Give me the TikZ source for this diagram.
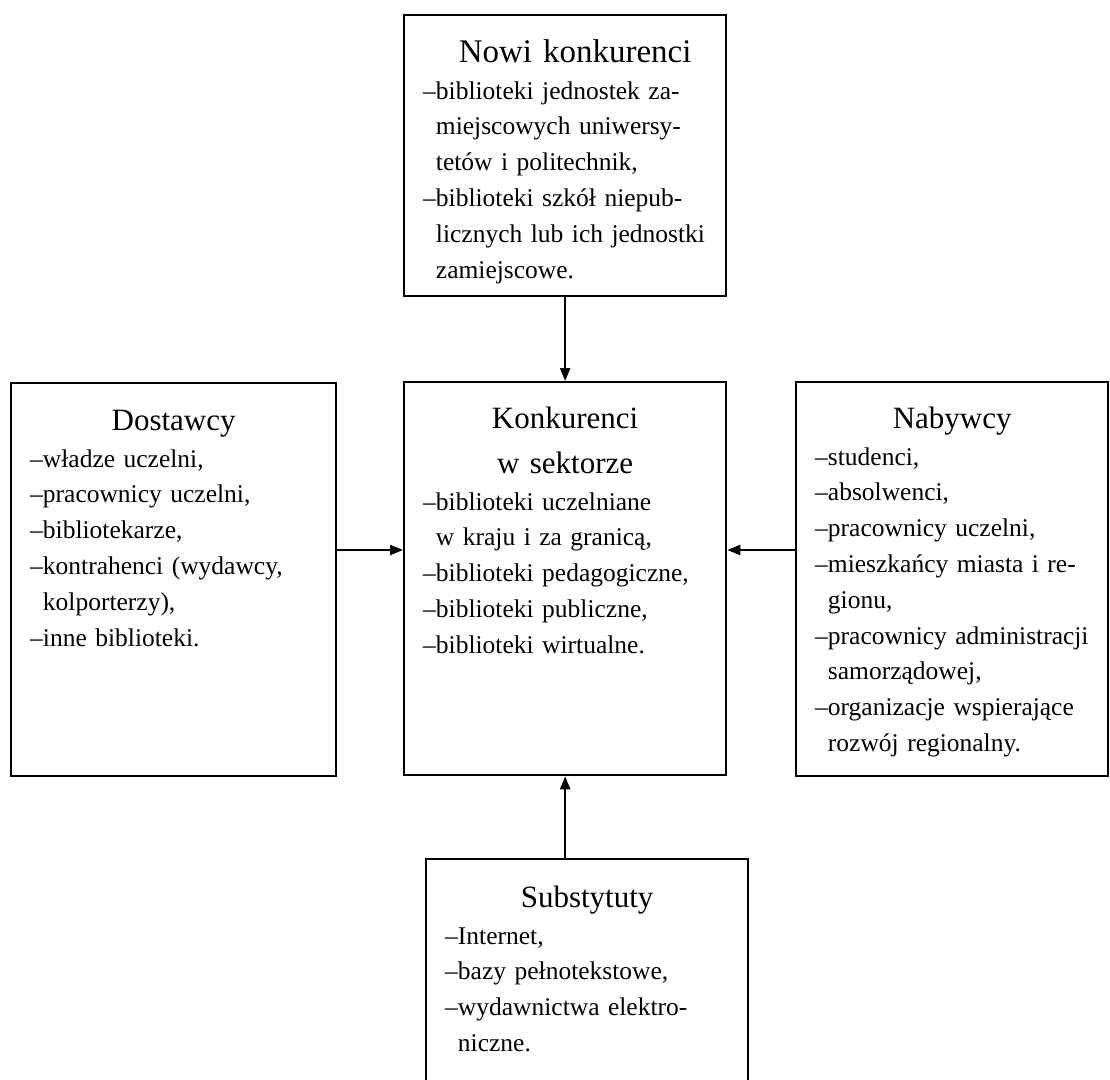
\documentclass[tikz,border=0pt]{standalone}
\usepackage{fontspec}
\setmainfont{Liberation Serif}
\usetikzlibrary{arrows.meta}
\newcommand\dsh{–}
\newcommand\ind{\phantom{–}}
\begin{document}
\begin{tikzpicture}[x=1pt,y=-1pt,
  bx/.style={draw=black,line width=2.3pt,inner sep=0pt,anchor=north west},
  ttl/.style={anchor=base,inner sep=0pt,align=center,text width=300pt,font=\fontsize{31}{45}\selectfont},
  body/.style={anchor=base west,inner sep=0pt,align=left,text width=420pt,font=\fontsize{25.5}{35.8}\selectfont},
  arr/.style={line width=2.3pt,-{Triangle[length=13pt,width=10pt]}}]
\clip (0,0) rectangle (1110,1079);
\fill[white] (0,0) rectangle (1110,1079);
% boxes
\node[bx,minimum width=322pt,minimum height=281pt] (topbox) at (403,14) {};
\node[bx,minimum width=325pt,minimum height=393pt] (leftbox) at (10,382) {};
\node[bx,minimum width=322pt,minimum height=393pt] (cenbox) at (403,381) {};
\node[bx,minimum width=312pt,minimum height=394pt] (rightbox) at (795,381) {};
\node[bx,minimum width=322pt,minimum height=280pt] (botbox) at (425,858) {};
% titles
\node[ttl,font=\fontsize{33}{45}\selectfont] (toptitle) at ([yshift=-48pt,xshift=10pt]topbox.north) {Nowi konkurenci};
\node[ttl] (lefttitle) at ([yshift=-48pt]leftbox.north) {Dostawcy};
\node[ttl] (centitle) at ([yshift=-47pt]cenbox.north) {Konkurenci\\w sektorze};
\node[ttl] (righttitle) at ([yshift=-47pt]rightbox.north) {Nabywcy};
\node[ttl] (bottitle) at ([yshift=-49pt]botbox.north) {Substytuty};
% bodies
\node[body] (topbody) at ([xshift=20pt,yshift=-85pt]topbox.north west) {\dsh biblioteki jednostek za-\\
\ind miejscowych uniwersy-\\
\ind tetów i politechnik,\\
\dsh biblioteki szkół niepub-\\
\ind licznych lub ich jednostki\\
\ind zamiejscowe.};
\node[body] (leftbody) at ([xshift=20pt,yshift=-85pt]leftbox.north west) {\dsh władze uczelni,\\
\dsh pracownicy uczelni,\\
\dsh bibliotekarze,\\
\dsh kontrahenci (wydawcy,\\
\ind kolporterzy),\\
\dsh inne biblioteki.};
\node[body] (cenbody) at ([xshift=20pt,yshift=-129pt]cenbox.north west) {\dsh biblioteki uczelniane\\
\ind w kraju i za granicą,\\
\dsh biblioteki pedagogiczne,\\
\dsh biblioteki publiczne,\\
\dsh biblioteki wirtualne.};
\node[body] (rightbody) at ([xshift=20pt,yshift=-84pt]rightbox.north west) {\dsh studenci,\\
\dsh absolwenci,\\
\dsh pracownicy uczelni,\\
\dsh mieszkańcy miasta i re-\\
\ind gionu,\\
\dsh pracownicy administracji\\
\ind samorządowej,\\
\dsh organizacje wspierające\\
\ind rozwój regionalny.};
\node[body] (botbody) at ([xshift=20pt,yshift=-86pt]botbox.north west) {\dsh Internet,\\
\dsh bazy pełnotekstowe,\\
\dsh wydawnictwa elektro-\\
\ind niczne.};
% connectors
\coordinate (ay) at (0,550);
\draw[arr] (topbox.south) -- (cenbox.north);
\draw[arr] (leftbox.east |- ay) -- (cenbox.west |- ay);
\draw[arr] (rightbox.west |- ay) -- (cenbox.east |- ay);
\draw[arr] (cenbox.south |- botbox.north) -- (cenbox.south);
\end{tikzpicture}
\end{document}
